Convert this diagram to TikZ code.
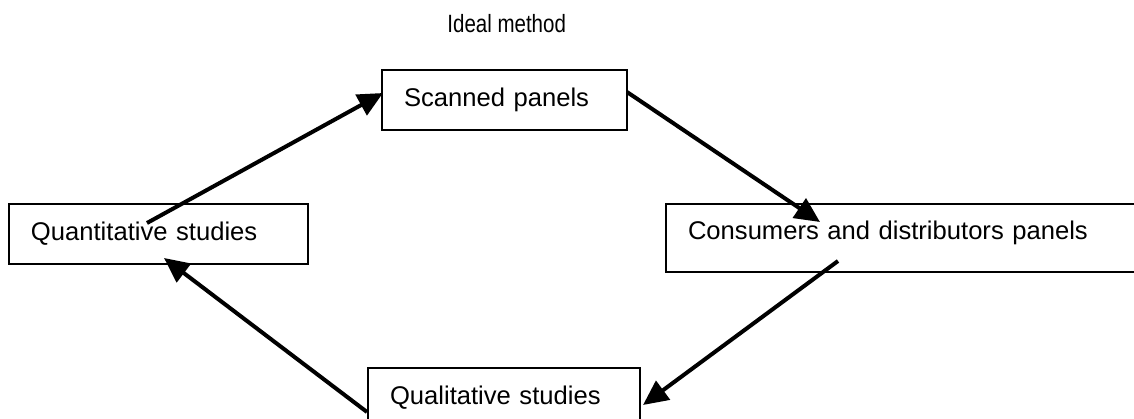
\documentclass[tikz,border=0pt]{standalone}
\usepackage{fontspec}
\setmainfont{Liberation Sans}
\newfontfamily\narrowfont[FakeStretch=0.82]{Liberation Sans}
\usepackage{tikz}
\usetikzlibrary{positioning,calc,arrows.meta}

\begin{document}
\begin{tikzpicture}[x=0.5pt,y=-0.5pt,
    panel/.style={draw, line width=1pt, anchor=north west, align=left, inner xsep=11pt, inner ysep=0pt,
        font=\fontsize{12.8}{15}\selectfont},
    flow/.style={line width=2pt, -{Triangle[length=12.5pt,width=11.5pt]}}]
    \clip (0,0) rectangle (1134,418);
    % title
    \node[anchor=base west, inner sep=0pt, font=\narrowfont\fontsize{12.5}{15}\selectfont] (title) at (447,32) {Ideal method};
    % boxes
    \node[panel, text width=100.5pt, minimum height=30pt] (scan) at (381,69) {Scanned panels};
    \node[panel, text width=127.5pt, minimum height=30pt] (quant) at (8,203) {Quantitative studies};
    \node[panel, text width=225.5pt, minimum height=34pt, text depth=7.7pt] (cons) at (665,203) {Consumers and distributors panels};
    \node[panel, text width=114pt, minimum height=30pt] (qual) at (367,367) {Qualitative studies};
    % arrows
    \draw[flow] ($(quant.north west)+(139,20)$) -- ($(scan.west)+(2,-7)$);
    \draw[flow] ($(scan.east)+(-1,-8)$) -- ($(cons.north west)+(155,19)$);
    \draw[flow] ($(cons.north west)+(173,58)$) -- ($(qual.north east)+(2,38)$);
    \draw[flow] ($(qual.north west)+(0,45)$) -- ($(quant.south west)+(156,-7)$);
\end{tikzpicture}
\end{document}
